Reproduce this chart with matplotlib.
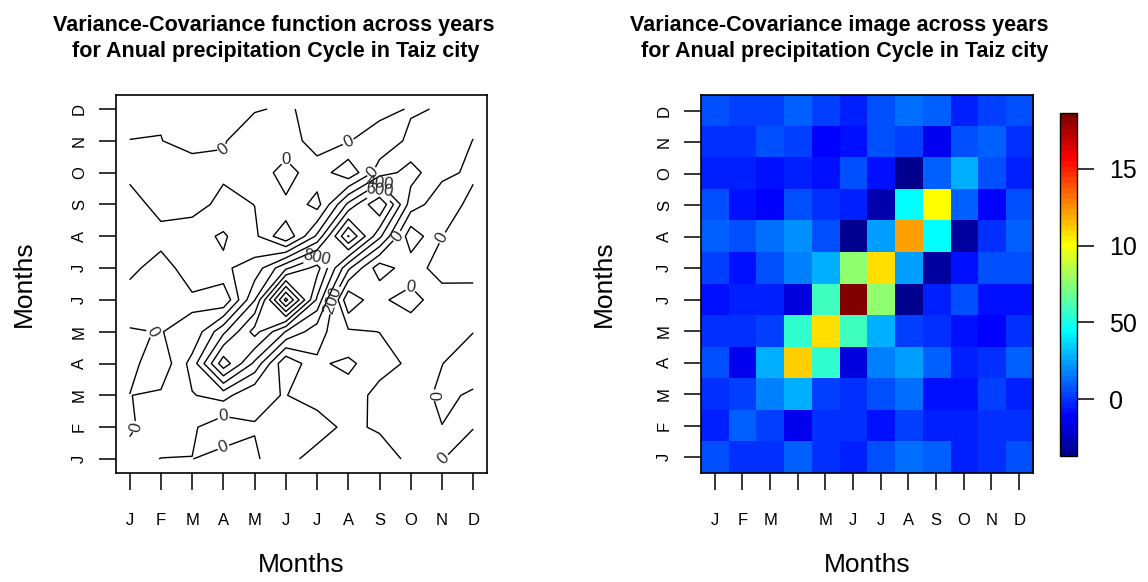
import numpy as np
import matplotlib
matplotlib.use("Agg")
import matplotlib.pyplot as plt
from matplotlib.colors import LinearSegmentedColormap

plt.rcParams['font.family'] = ['Liberation Sans', 'DejaVu Sans']

months = ["J", "F", "M", "A", "M", "J", "J", "A", "S", "O", "N", "D"]
# the image panel shows no label under April
image_xlabels = ["J", "F", "M", "", "M", "J", "J", "A", "S", "O", "N", "D"]

# covariance of monthly precipitation, one row per month (Jan at the bottom)
cov_jan = [49, -3, -3, 84, 8, -38, 49, 119, 84, -38, -3, 49]
cov_feb = [-21, 84, 32, -143, -3, -3, -56, 32, -21, -21, -3, -3]
cov_mar = [-3, 32, 188, 276, 14, -3, 49, 119, -73, -73, 32, -21]
cov_apr = [66, -143, 276, 1128, 555, -178, 171, 241, 84, -38, -3, 84]
cov_may = [8, -3, 32, 555, 1078, 590, 276, 32, -3, -73, -108, -3]
cov_jun = [-56, -21, -21, -178, 590, 1864, 764, -370, -21, 49, -73, -56]
cov_jul = [32, -56, 66, 171, 276, 764, 1078, 241, -318, -73, 66, 49]
cov_aug = [101, 49, 136, 223, 49, -370, 241, 1215, 450, -335, -3, 101]
cov_sep = [66, -56, -91, 66, -3, -21, -283, 450, 1000, 101, -125, 66]
cov_oct = [-38, -38, -73, -38, -73, 49, -73, -353, 101, 276, 49, -38]
cov_nov = [-3, -3, 49, 14, -108, -73, 66, 14, -143, 49, 84, -3]
cov_dec = [66, 14, 14, 101, 14, -21, 49, 119, 84, -21, 14, 49]

contour_levels = list(range(-400, 2000, 200))
labelled_levels = [0, 200, 400, 600, 800]
cbar_ticks = [0, 500, 1000, 1500]
cbar_labels = ["0", "50", "10", "15"]

Z = np.array([cov_jan, cov_feb, cov_mar, cov_apr, cov_may, cov_jun,
              cov_jul, cov_aug, cov_sep, cov_oct, cov_nov, cov_dec], dtype=float)
pos = np.arange(1, 13)

# 64-step rainbow like the one fields::image.plot uses
tim = LinearSegmentedColormap.from_list(
    'tim', [(0, '#00008F'), (7 / 63, '#0000FF'), (23 / 63, '#00FFFF'),
            (39 / 63, '#FFFF00'), (55 / 63, '#FF0000'), (1, '#800000')], N=64)

fig = plt.figure(figsize=(11.48, 5.82), dpi=100)


def style_axis(ax):
    for sp in ax.spines.values():
        sp.set_linewidth(1.2)
    ax.tick_params(axis='both', direction='out', length=12, width=1.1, labelsize=12)
    ax.tick_params(axis='x', pad=17)
    ax.tick_params(axis='y', pad=9)
    ax.set_xticks(pos)
    ax.set_yticks(pos)
    ax.set_yticklabels(months, rotation=90, va='center')


# left: contour
ax1 = fig.add_axes([0.1010, 0.1873, 0.3232, 0.6495])
cs = ax1.contour(pos, pos, Z, levels=contour_levels, colors='black',
                 linewidths=1.0, linestyles='solid')
ax1.clabel(cs, levels=labelled_levels, fmt='%d', fontsize=12, colors='#2a2a2a',
           inline=True, inline_spacing=2)
ax1.set_xlim(0.56, 12.44)
ax1.set_ylim(0.56, 12.44)
style_axis(ax1)
ax1.set_xticklabels(months)
ax1.set_xlabel('Months', fontsize=19)
ax1.set_ylabel('Months', fontsize=19)
ax1.xaxis.set_label_coords(0.5, -0.2434)
ax1.xaxis.label.set_verticalalignment('center')
ax1.yaxis.set_label_coords(-0.2478, 0.5)
ax1.yaxis.label.set_verticalalignment('center')

# right: image
ax2 = fig.add_axes([0.6106, 0.1873, 0.2892, 0.6495])
im = ax2.imshow(Z, cmap=tim, origin='lower', extent=(0.5, 12.5, 0.5, 12.5),
                aspect='auto', interpolation='nearest', vmin=Z.min(), vmax=Z.max())
style_axis(ax2)
ax2.set_xticklabels(image_xlabels)
ax2.set_xlabel('Months', fontsize=19)
ax2.set_ylabel('Months', fontsize=19)
ax2.xaxis.set_label_coords(0.5, -0.2434)
ax2.xaxis.label.set_verticalalignment('center')
ax2.yaxis.set_label_coords(-0.292, 0.5)
ax2.yaxis.label.set_verticalalignment('center')

cax = fig.add_axes([0.9233, 0.2165, 0.0148, 0.5893])
cb = fig.colorbar(im, cax=cax, ticks=cbar_ticks)
cb.ax.set_yticklabels(cbar_labels)
cb.outline.set_linewidth(1.0)
cb.ax.tick_params(length=12, width=1.1, labelsize=18, pad=11)

# two-line titles
fig.text(274 / 1148, 0.9467, 'Variance-Covariance function across years',
         ha='center', va='baseline', fontsize=15.5, fontweight='bold')
fig.text(276 / 1148, 0.9021, 'for Anual precipitation Cycle in Taiz city',
         ha='center', va='baseline', fontsize=15.5, fontweight='bold')
fig.text(839 / 1148, 0.9467, 'Variance-Covariance image across years',
         ha='center', va='baseline', fontsize=15.5, fontweight='bold')
fig.text(845 / 1148, 0.9021, 'for Anual precipitation Cycle in Taiz city',
         ha='center', va='baseline', fontsize=15.5, fontweight='bold')

fig.savefig('out.png', dpi=100)
